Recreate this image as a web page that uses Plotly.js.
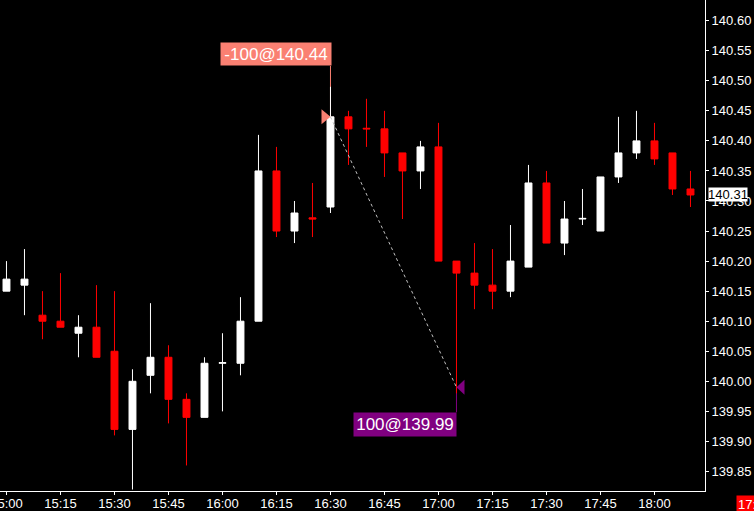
<!DOCTYPE html>
<html><head><meta charset="utf-8">
<script src="https://cdn.plot.ly/plotly-3.0.1.min.js"></script>
<style>html,body{margin:0;padding:0;background:#000;overflow:hidden;}#chart{width:754px;height:511px;}</style>
</head><body><div id="chart"></div>
<script>
const day = '2024-01-01';
const times = ['15:00','15:05','15:10','15:15','15:20','15:25','15:30','15:35','15:40','15:45','15:50','15:55',
  '16:00','16:05','16:10','16:15','16:20','16:25','16:30','16:35','16:40','16:45','16:50','16:55',
  '17:00','17:05','17:10','17:15','17:20','17:25','17:30','17:35','17:40','17:45','17:50','17:55',
  '18:00','18:05','18:10'];
const opens  = [140.15,140.16,140.11,140.10,140.08,140.09,140.05,139.92,140.01,140.04,139.97,139.94,
  140.030,140.03,140.10,140.35,140.25,140.272,140.29,140.44,140.421,140.42,140.38,140.35,
  140.39,140.20,140.18,140.16,140.15,140.19,140.33,140.23,140.270,140.25,140.34,140.38,
  140.40,140.38,140.32];
const highs  = [140.20,140.22,140.15,140.18,140.11,140.16,140.15,140.02,140.13,140.06,139.98,140.04,
  140.08,140.14,140.41,140.39,140.30,140.33,140.49,140.45,140.47,140.45,140.38,140.40,
  140.43,140.20,140.23,140.22,140.26,140.36,140.35,140.30,140.32,140.34,140.44,140.45,
  140.43,140.38,140.35];
const lows   = [140.15,140.11,140.07,140.09,140.04,140.04,139.91,139.82,139.98,139.93,139.86,139.94,
  139.95,140.01,140.10,140.24,140.23,140.24,140.28,140.36,140.39,140.34,140.27,140.32,
  140.20,139.98,140.12,140.12,140.14,140.19,140.23,140.21,140.26,140.25,140.33,140.37,
  140.36,140.31,140.29];
const closes = [140.17,140.17,140.10,140.09,140.09,140.04,139.92,140.00,140.04,139.97,139.94,140.03,
  140.031,140.10,140.35,140.25,140.28,140.270,140.44,140.42,140.420,140.38,140.35,140.39,
  140.20,140.18,140.16,140.15,140.20,140.33,140.23,140.27,140.271,140.34,140.38,140.40,
  140.37,140.32,140.31];
const yTicks = [139.85,139.90,139.95,140.00,140.05,140.10,140.15,140.20,140.25,140.30,140.35,140.40,140.45,140.50,140.55,140.60];
const xTicks = ['15:00','15:15','15:30','15:45','16:00','16:15','16:30','16:45','17:00','17:15','17:30','17:45','18:00'];
const tradeTimes = ['16:30','17:05'];
const tradePrices = [140.44, 139.99];
const tradeLabels = ['-100@140.44','100@139.99'];
const lastPrice = 140.31;
const cursorTimeLabel = '17:10';

const WHITE = '#ffffff', RED = '#ff0000', SALMON = '#fa8072', PURPLE = '#800080';
const up = {x:[],open:[],high:[],low:[],close:[]};
const dn = {x:[],open:[],high:[],low:[],close:[]};
times.forEach((t,i)=>{
  const g = closes[i] > opens[i] ? up : dn;
  g.x.push(day+' '+t); g.open.push(opens[i]); g.high.push(highs[i]); g.low.push(lows[i]); g.close.push(closes[i]);
});
function candle(g, col){
  return {type:'candlestick', x:g.x, open:g.open, high:g.high, low:g.low, close:g.close,
    increasing:{line:{color:col,width:1},fillcolor:col},
    decreasing:{line:{color:col,width:1},fillcolor:col},
    whiskerwidth:0, hoverinfo:'skip', showlegend:false};
}
const data = [candle(up, WHITE), candle(dn, RED)];

const tx = tradeTimes.map(t=>day+' '+t);
const shapes = [
  {type:'line', xref:'x', yref:'y', x0:tx[0], x1:tx[0], y0:0, y1:51, ysizemode:'pixel', yanchor:tradePrices[0],
   line:{color:SALMON,width:1}, layer:'below'},
  {type:'line', xref:'x', yref:'y', x0:tx[1], x1:tx[1], y0:0, y1:-25, ysizemode:'pixel', yanchor:tradePrices[1],
   line:{color:PURPLE,width:1}, layer:'below'},
  {type:'line', xref:'x', yref:'y', x0:tx[0], y0:tradePrices[0], x1:tx[1], y1:tradePrices[1],
   line:{color:'#c0c0c0',width:1,dash:'dot'}, layer:'above'},
  {type:'path', xref:'x', yref:'y', xsizemode:'pixel', ysizemode:'pixel', xanchor:tx[0], yanchor:tradePrices[0],
   path:'M0,0L-9,7.5L-9,-7.5Z', fillcolor:SALMON, line:{width:0}, layer:'above'},
  {type:'path', xref:'x', yref:'y', xsizemode:'pixel', ysizemode:'pixel', xanchor:tx[1], yanchor:tradePrices[1],
   path:'M0,0L8,7.5L8,-7.5Z', fillcolor:PURPLE, line:{width:0}, layer:'above'}
];

const annotations = [
  {xref:'x', yref:'y', x:tx[0], y:tradePrices[0], text:tradeLabels[0], showarrow:false,
   xanchor:'right', yanchor:'bottom', xshift:1.5, yshift:51, width:110, height:22, borderpad:0,
   bgcolor:SALMON, font:{family:'Liberation Sans', size:17, color:WHITE}},
  {xref:'x', yref:'y', x:tx[1], y:tradePrices[1], text:tradeLabels[1], showarrow:false,
   xanchor:'right', yanchor:'top', xshift:0.5, yshift:-25, width:102, height:23, borderpad:0,
   bgcolor:PURPLE, font:{family:'Liberation Sans', size:17, color:WHITE}},
  {xref:'paper', yref:'y', x:1, y:lastPrice, text:lastPrice.toFixed(2), showarrow:false,
   xanchor:'left', yanchor:'middle', xshift:3, width:38, height:13, borderpad:0,
   bgcolor:WHITE, font:{family:'Liberation Sans', size:13, color:'#000000'}},
  {xref:'paper', yref:'paper', x:1, y:0, text:cursorTimeLabel, showarrow:false,
   xanchor:'left', yanchor:'top', xshift:31, yshift:-4, borderpad:1,
   bgcolor:RED, font:{family:'Liberation Sans', size:13, color:WHITE}}
];

const layout = {
  width:754, height:511,
  margin:{l:0, r:49, t:0, b:20, pad:0},
  paper_bgcolor:'#000000', plot_bgcolor:'#000000',
  showlegend:false, boxgap:0.45, hovermode:false,
  xaxis:{type:'date', range:[day+' 14:58:12', day+' 18:14:02'], rangeslider:{visible:false},
    tickvals:xTicks.map(t=>day+' '+t), ticktext:xTicks, ticklabeloverflow:'allow', ticklabelstandoff:-3,
    showgrid:false, zeroline:false, showline:true, linecolor:WHITE, linewidth:1,
    ticks:'outside', ticklen:3, tickcolor:WHITE, tickwidth:1,
    tickfont:{family:'Liberation Sans', size:13, color:WHITE}, fixedrange:true},
  yaxis:{side:'right', range:[139.8175, 140.6344], tickvals:yTicks, ticktext:yTicks.map(v=>v.toFixed(2)),
    ticklabeloverflow:'allow',
    showgrid:false, zeroline:false, showline:true, linecolor:WHITE, linewidth:1,
    ticks:'outside', ticklen:3, tickcolor:WHITE, tickwidth:1,
    tickfont:{family:'Liberation Sans', size:13, color:WHITE}, fixedrange:true},
  shapes:shapes, annotations:annotations
};
Plotly.newPlot('chart', data, layout, {displayModeBar:false, staticPlot:true});
</script></body></html>
